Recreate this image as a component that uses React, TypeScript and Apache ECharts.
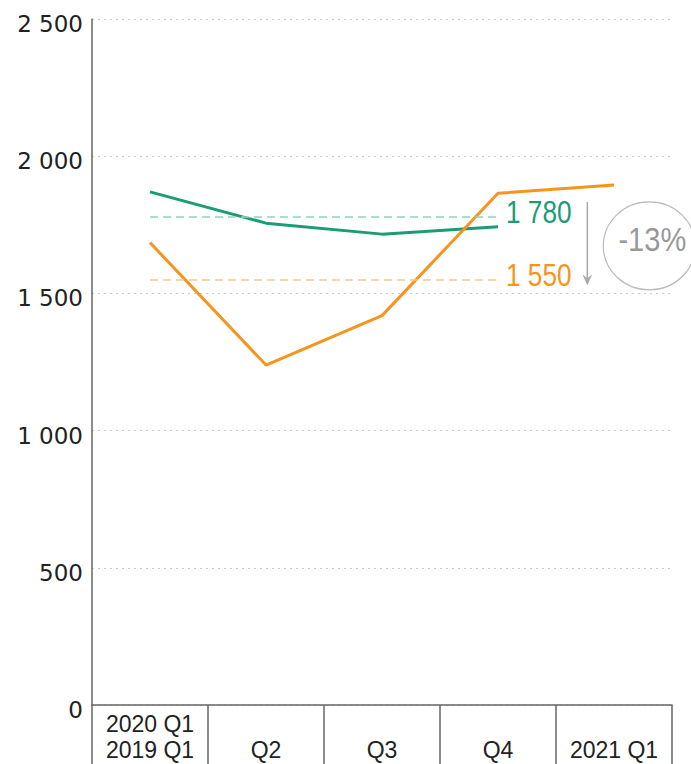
import React, { useEffect, useRef } from "react";
import * as echarts from "echarts";

const categories = ["2020 Q1\n2019 Q1", "Q2", "Q3", "Q4", "2021 Q1"];
const series2019 = [1870, 1756, 1716, 1743, null];
const series2020 = [1685, 1239, 1419, 1865, 1895];
const avg2019 = 1780;
const avg2020 = 1550;
const yTicks = [0, 500, 1000, 1500, 2000, 2500];

const GREEN = "#1a9c77";
const ORANGE = "#f7941e";
const GREEN_DASH = "#8ed3bd";
const ORANGE_DASH = "#f9c68e";
const AXIS = "#666";

const fmt = (v: number) => String(v).replace(/\B(?=(\d{3})+(?!\d))/g, " ");

export default function App() {
  const ref = useRef<HTMLDivElement>(null);
  useEffect(() => {
    if (!ref.current) return;
    const chart = echarts.init(ref.current, null, { renderer: "svg" });
    chart.setOption({
      animation: false,
      grid: { left: 92, right: 19, top: 19, bottom: 59 },
      xAxis: {
        type: "category",
        data: categories,
        boundaryGap: true,
        axisLine: { show: true, lineStyle: { color: AXIS, width: 1.5 } },
        axisTick: { show: true, interval: 0, length: 60, lineStyle: { color: AXIS, width: 1.5 } },
        axisLabel: {
          interval: 0,
          margin: 6,
          fontSize: 23,
          lineHeight: 26,
          color: "#222",
          fontFamily: "Liberation Sans",
          formatter: (v: string) => (v.includes("\n") ? v : "\n" + v),
        },
        splitLine: { show: false },
      },
      yAxis: {
        type: "value",
        min: yTicks[0],
        max: yTicks[yTicks.length - 1],
        interval: 500,
        axisLine: { show: true, lineStyle: { color: AXIS, width: 1.5 } },
        axisTick: { show: false },
        axisLabel: {
          margin: 9,
          color: "#222",
          formatter: (v: number) => "{a|" + fmt(v) + "}",
          rich: {
            a: {
              fontSize: 23,
              color: "#222",
              fontFamily: "DejaVu Sans",
              padding: [10, 0, 0, 0],
            },
          },
        },
        splitLine: { show: true, lineStyle: { color: "#ccc", type: [2, 4], width: 1 } },
      },
      series: [
        {
          name: "2019",
          type: "line",
          data: series2019,
          symbol: "none",
          lineStyle: { color: GREEN, width: 3 },
          z: 3,
          markLine: {
            silent: true,
            symbol: ["none", "none"],
            lineStyle: { color: GREEN_DASH, type: [8, 5], width: 1.5 },
            label: { show: false },
            data: [[{ coord: [0, avg2019] }, { coord: [3, avg2019] }]],
          },
        },
        {
          name: "2020",
          type: "line",
          data: series2020,
          symbol: "none",
          lineStyle: { color: ORANGE, width: 3 },
          z: 4,
          markLine: {
            silent: true,
            symbol: ["none", "none"],
            lineStyle: { color: ORANGE_DASH, type: [8, 5], width: 1.5 },
            label: { show: false },
            data: [[{ coord: [0, avg2020] }, { coord: [3, avg2020] }]],
          },
        },
      ],
    });

    const x4 = chart.convertToPixel({ xAxisIndex: 0 }, 3) as number;
    const x5 = chart.convertToPixel({ xAxisIndex: 0 }, 4) as number;
    const arrowX = x4 + (x5 - x4) * 0.77;
    const yTop = chart.convertToPixel({ yAxisIndex: 0 }, 1833) as number;
    const yBot = chart.convertToPixel({ yAxisIndex: 0 }, 1530) as number;
    const cy = chart.convertToPixel({ yAxisIndex: 0 }, 1673) as number;
    const yA = chart.convertToPixel({ yAxisIndex: 0 }, avg2019) as number;
    const yB = chart.convertToPixel({ yAxisIndex: 0 }, avg2020) as number;
    const cx = arrowX + 62;
    const pct = Math.round(((avg2020 - avg2019) / avg2019) * 100);

    chart.setOption({
      graphic: [
        {
          type: "text",
          x: x4 + 8,
          y: yA - 5,
          scaleX: 0.82,
          style: {
            text: fmt(avg2019),
            fill: GREEN,
            fontSize: 32,
            fontFamily: "Liberation Sans",
            align: "left",
            verticalAlign: "middle",
          },
        },
        {
          type: "text",
          x: x4 + 8,
          y: yB - 5,
          scaleX: 0.82,
          style: {
            text: fmt(avg2020),
            fill: ORANGE,
            fontSize: 32,
            fontFamily: "Liberation Sans",
            align: "left",
            verticalAlign: "middle",
          },
        },
        {
          type: "line",
          shape: { x1: arrowX, y1: yTop, x2: arrowX, y2: yBot - 2 },
          style: { stroke: "#aaa", lineWidth: 1.5 },
        },
        {
          type: "polygon",
          shape: { points: [[arrowX - 5, yBot - 11], [arrowX, yBot], [arrowX + 5, yBot - 11], [arrowX, yBot - 7]] },
          style: { fill: "#aaa" },
        },
        {
          type: "ellipse",
          shape: { cx: cx, cy: cy, rx: 46, ry: 44 },
          style: { fill: "none", stroke: "#bbb", lineWidth: 1.2 },
        },
        {
          type: "text",
          x: cx + 3,
          y: cy - 6,
          scaleX: 0.88,
          style: {
            text: `${pct}%`,
            fill: "#999",
            fontSize: 33,
            fontFamily: "Liberation Sans",
            align: "center",
            verticalAlign: "middle",
          },
        },
      ],
    });

    return () => chart.dispose();
  }, []);
  return (
    <div
      ref={ref}
      style={{ position: "fixed", left: 0, top: 0, width: 691, height: 764, background: "#fff" }}
    />
  );
}
